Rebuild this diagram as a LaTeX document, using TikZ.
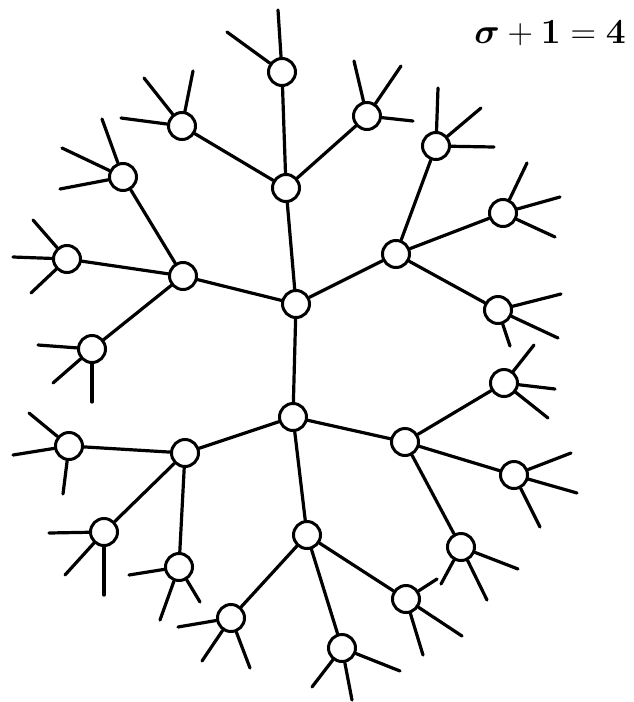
\documentclass[tikz,border=0pt]{standalone}
\usepackage{amsmath}
\begin{document}
\begin{tikzpicture}[x=1pt,y=-1pt,
  site/.style={circle,draw,line width=3pt,minimum size=27pt,inner sep=0pt,fill=white},
  edge/.style={line width=3.2pt,line cap=round},
  lbl/.style={font=\fontsize{24.88}{30}\selectfont}]
\useasboundingbox (0,0) rectangle (633,702);
\node[lbl] (lab) at (550,33) {\scalebox{1.42}{$\boldsymbol{\sigma} + \mathbf{1} = \mathbf{4}$}};
% inner sites
\foreach \n/\x/\y in {A/296/304, B/293/417, C/286/188, D/183/276, E/396/254,
  F/282/72, G/182/126, H/367/116, I/123/177, J/67/259, K/92/349,
  L/436/146, M/503/213, N/498/310,
  P/185/453, Q/405/442, R/307/535,
  S/69/446, T/104/532, U/179/567,
  V/504/383, W/514/475, X/461/547,
  Y/231/618, Z/342/648, AA/406/599}
  {\node[site] (\n) at (\x,\y) {};}
% bonds between sites
\foreach \a/\b in {A/B, A/C, A/D, A/E, C/F, C/G, C/H, D/I, D/J, D/K,
  E/L, E/M, E/N, B/P, B/Q, B/R, P/S, P/T, P/U, Q/V, Q/W, Q/X, R/Y, R/Z, R/AA}
  {\draw[edge] (\a) -- (\b);}
% dangling bonds
\foreach \p/\k/\x/\y in {F/1/278/10, F/2/227/32,
  G/1/144/78, G/2/193/71, G/3/121/118,
  H/1/354/61, H/2/401/66, H/3/413/121,
  I/1/102/119, I/2/62/148, I/3/60/189,
  J/1/33/220, J/2/13/257, J/3/31/293,
  K/1/38/345, K/2/53/383, K/3/92/402,
  L/1/438/88, L/2/481/108, L/3/494/147,
  M/1/527/163, M/2/560/197, M/3/555/237,
  N/1/561/294, N/2/558/338, N/3/510/346,
  S/1/29/413, S/2/13/455, S/3/63/494,
  T/1/49/533, T/2/65/575, T/3/104/595,
  U/1/129/575, U/2/160/620, U/3/200/602,
  V/1/534/345, V/2/555/389, V/3/548/418,
  W/1/571/453, W/2/577/493, W/3/540/527,
  X/1/518/569, X/2/487/600, X/3/441/584,
  Y/1/178/627, Y/2/202/661, Y/3/250/668,
  Z/1/400/671, Z/2/352/700, Z/3/312/687,
  AA/1/437/579, AA/2/462/636, AA/3/423/655}
  {\coordinate (\p-\k) at (\x,\y); \draw[edge] (\p) -- (\p-\k);}
\end{tikzpicture}
\end{document}
